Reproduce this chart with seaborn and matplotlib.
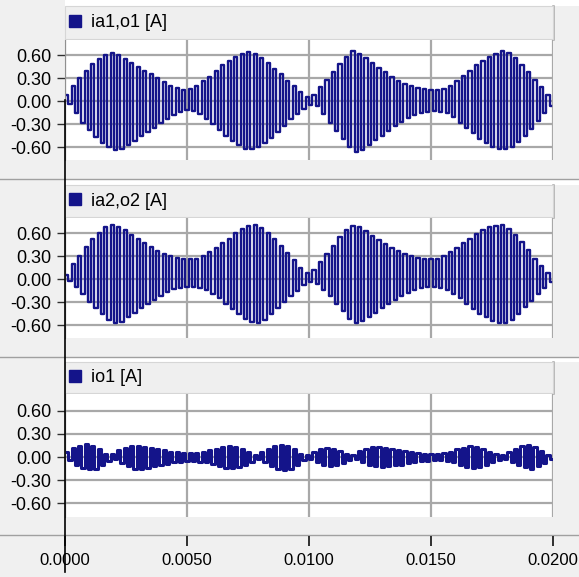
import numpy as np
import pandas as pd
import matplotlib.pyplot as plt
import seaborn as sns
from matplotlib.lines import Line2D
from matplotlib.patches import Rectangle

# =========================
# DATA (peak values per carrier cycle)
# =========================
t_end = 0.02
x_ticks = [0.0, 0.005, 0.010, 0.015, 0.020]
x_ticklabels = ["0.0000", "0.0050", "0.0100", "0.0150", "0.0200"]
y_ticks = [0.6, 0.3, 0.0, -0.3, -0.6]
y_ticklabels = ["0.60", "0.30", "0.00", "-0.30", "-0.60"]
labels = ["ia1,o1 [A]", "ia2,o2 [A]", "io1 [A]"]

ia1_pos = [0.08, 0.2, 0.3, 0.4, 0.48, 0.55, 0.6, 0.63, 0.6, 0.55,
           0.5, 0.45, 0.4, 0.35, 0.3, 0.25, 0.2, 0.17, 0.15, 0.16,
           0.2, 0.26, 0.32, 0.4, 0.47, 0.53, 0.58, 0.62, 0.64, 0.62,
           0.57, 0.5, 0.42, 0.35, 0.27, 0.2, 0.12, 0.06, 0.08, 0.18,
           0.28, 0.38, 0.48, 0.58, 0.65, 0.62, 0.56, 0.5, 0.44, 0.38,
           0.32, 0.27, 0.23, 0.2, 0.17, 0.16, 0.15, 0.15, 0.16, 0.2,
           0.26, 0.33, 0.4, 0.47, 0.53, 0.58, 0.62, 0.66, 0.63, 0.56,
           0.47, 0.38, 0.28, 0.18, 0.08]
ia1_neg = [-0.04, -0.15, -0.28, -0.38, -0.47, -0.55, -0.6, -0.64, -0.62, -0.57,
           -0.52, -0.46, -0.4, -0.35, -0.29, -0.23, -0.18, -0.14, -0.12, -0.13,
           -0.17, -0.23, -0.3, -0.38, -0.45, -0.52, -0.58, -0.62, -0.63, -0.6,
           -0.55, -0.48, -0.4, -0.32, -0.24, -0.17, -0.1, -0.05, -0.07, -0.17,
           -0.28, -0.39, -0.5, -0.6, -0.67, -0.64, -0.58, -0.51, -0.45, -0.39,
           -0.33, -0.27, -0.22, -0.18, -0.15, -0.14, -0.13, -0.14, -0.16, -0.21,
           -0.28, -0.35, -0.42, -0.49, -0.55, -0.6, -0.62, -0.63, -0.6, -0.53,
           -0.45, -0.36, -0.26, -0.16, -0.06]

ia2_pos = [0.06, 0.2, 0.3, 0.42, 0.52, 0.6, 0.68, 0.71, 0.68, 0.64,
           0.58, 0.52, 0.47, 0.42, 0.37, 0.33, 0.3, 0.28, 0.26, 0.26,
           0.27, 0.3, 0.35, 0.41, 0.47, 0.53, 0.6, 0.65, 0.69, 0.71,
           0.67, 0.6, 0.52, 0.43, 0.34, 0.25, 0.15, 0.08, 0.12, 0.22,
           0.33, 0.44, 0.55, 0.64, 0.7, 0.68, 0.63, 0.57, 0.51, 0.46,
           0.41, 0.37, 0.33, 0.3, 0.28, 0.26, 0.26, 0.27, 0.3, 0.35,
           0.41, 0.47, 0.53, 0.59, 0.64, 0.68, 0.7, 0.71, 0.66, 0.58,
           0.48, 0.38, 0.27, 0.17, 0.08]
ia2_neg = [-0.02, -0.1, -0.2, -0.3, -0.38, -0.46, -0.54, -0.58, -0.56, -0.5,
           -0.44, -0.38, -0.32, -0.27, -0.22, -0.17, -0.13, -0.11, -0.1, -0.1,
           -0.11, -0.14, -0.19, -0.25, -0.32, -0.39, -0.46, -0.52, -0.56, -0.58,
           -0.54, -0.46, -0.38, -0.3, -0.22, -0.15, -0.08, -0.04, -0.06, -0.14,
           -0.22, -0.32, -0.42, -0.52, -0.58, -0.55, -0.5, -0.44, -0.38, -0.32,
           -0.27, -0.22, -0.18, -0.14, -0.12, -0.1, -0.1, -0.11, -0.14, -0.19,
           -0.25, -0.32, -0.39, -0.45, -0.5, -0.55, -0.57, -0.58, -0.53, -0.45,
           -0.37, -0.28, -0.19, -0.11, -0.04]

io1_pos = [0.06, 0.12, 0.15, 0.17, 0.15, 0.1, 0.04, 0.04, 0.09, 0.12,
           0.14, 0.14, 0.13, 0.12, 0.1, 0.09, 0.07, 0.06, 0.05, 0.05,
           0.05, 0.06, 0.09, 0.11, 0.13, 0.14, 0.13, 0.1, 0.06, 0.03,
           0.06, 0.11, 0.14, 0.16, 0.15, 0.1, 0.04, 0.03, 0.07, 0.11,
           0.12, 0.11, 0.08, 0.04, 0.03, 0.08, 0.11, 0.13, 0.13, 0.12,
           0.11, 0.09, 0.08, 0.06, 0.05, 0.04, 0.04, 0.04, 0.05, 0.07,
           0.1, 0.12, 0.14, 0.13, 0.1, 0.07, 0.04, 0.03, 0.07, 0.11,
           0.15, 0.16, 0.13, 0.08, 0.03]
io1_neg = [-0.04, -0.1, -0.14, -0.16, -0.15, -0.11, -0.05, -0.03, -0.08, -0.12,
           -0.15, -0.15, -0.14, -0.12, -0.11, -0.09, -0.07, -0.06, -0.05, -0.05,
           -0.06, -0.07, -0.09, -0.12, -0.14, -0.14, -0.13, -0.1, -0.06, -0.03,
           -0.06, -0.12, -0.15, -0.17, -0.15, -0.1, -0.04, -0.03, -0.07, -0.1,
           -0.12, -0.11, -0.08, -0.04, -0.03, -0.07, -0.11, -0.12, -0.13, -0.12,
           -0.11, -0.1, -0.08, -0.06, -0.05, -0.05, -0.04, -0.04, -0.05, -0.07,
           -0.1, -0.13, -0.14, -0.13, -0.11, -0.07, -0.04, -0.03, -0.06, -0.1,
           -0.13, -0.15, -0.12, -0.08, -0.03]

traces = [(ia1_pos, ia1_neg), (ia2_pos, ia2_neg), (io1_pos, io1_neg)]

# =========================
# STYLE / LAYOUT (pixel geometry of the scope window)
# =========================
W, H = 579, 577
navy = "#14148a"
bg = "#f0f0f0"
grid_c = "#a8a8a8"
plt.rcParams["font.family"] = ["Liberation Sans", "DejaVu Sans"]
fs = 13

x0, x1 = 65, 553
plot_rows = [(40, 160), (218, 338), (394, 517)]     # white plot areas (top, bottom)
bar_rows = [(6, 39), (185, 217), (362, 393)]        # title bars
white_rows = [(0, 6), (180, 185), (358, 362)]
sep_rows = [179, 357, 535]
ylims = [(-0.77, 0.8), (-0.77, 0.8), (-0.78, 0.82)]
line_w = [1.7, 1.7, 2.2]


def fy(y):
    return 1 - y / H


fig = plt.figure(figsize=(W / 100, H / 100), dpi=100)
fig.patch.set_facecolor(bg)

for (a, b) in white_rows:
    fig.patches.append(Rectangle((x0 / W, fy(b)), (W - x0) / W, (b - a) / H,
                                 transform=fig.transFigure, facecolor="white",
                                 edgecolor="none", zorder=-2))
for (a, b) in bar_rows:
    fig.patches.append(Rectangle((x0 / W, fy(b)), (x1 - x0) / W, (b - a) / H,
                                 transform=fig.transFigure, facecolor="#efefef",
                                 edgecolor="#d6d6d6", lw=0.8, zorder=-1))
    fig.add_artist(Line2D([x1 / W, x1 / W], [fy(a), fy(b)], color=grid_c, lw=1.8, zorder=-1))
for y in sep_rows:
    fig.add_artist(Line2D([0, 1], [fy(y), fy(y)], color="#a0a0a0", lw=1.0, zorder=-1))

for i, ((top, bot), (pos, neg)) in enumerate(zip(plot_rows, traces)):
    ax = fig.add_axes([x0 / W, fy(bot), (x1 - x0) / W, (bot - top) / H])
    ax.set_zorder(2)
    ax.set_facecolor("white")
    n = len(pos)
    vals = np.ravel(np.column_stack([pos, neg]))
    t = (np.arange(2 * n) + 0.5) * t_end / (2 * n)
    df = pd.DataFrame({"t": t, "i": vals})
    sns.lineplot(data=df, x="t", y="i", ax=ax, color=navy, lw=line_w[i],
                 drawstyle="steps-mid", estimator=None, sort=False)
    ax.set_xlim(0, t_end)
    ax.set_ylim(*ylims[i])
    ax.set_xticks(x_ticks)
    ax.set_yticks(y_ticks)
    ax.set_yticklabels(y_ticklabels, fontsize=fs)
    ax.tick_params(axis="x", length=0, labelbottom=False)
    ax.tick_params(axis="y", length=6, width=1, color="#303030", pad=4)
    ax.grid(True, color=grid_c, lw=1.6)
    ax.set_axisbelow(True)
    ax.set_xlabel("")
    ax.set_ylabel("")
    for s in ["top", "bottom", "right"]:
        ax.spines[s].set_visible(False)
    ax.spines["left"].set_color("#909090")
    ax.axvline(t_end, color=grid_c, lw=1.8, zorder=0.5)

    bar_top, bar_bot = bar_rows[i]
    yc = 1 + (top - (bar_top + bar_bot) / 2) / (bot - top)
    handle = Line2D([], [], marker="s", linestyle="", color=navy, markersize=8)
    ax.legend([handle], [labels[i]], loc="center left", bbox_to_anchor=(0.0, yc),
              frameon=False, fontsize=fs, handlelength=0.9, handletextpad=0.45,
              borderaxespad=0, borderpad=0.1)

# time axis strip below the last panel
axt = fig.add_axes([x0 / W, fy(546), (x1 - x0) / W, 8 / H])
axt.set_facecolor("none")
axt.set_xlim(0, t_end)
axt.set_xticks(x_ticks)
axt.set_xticklabels(x_ticklabels, fontsize=12)
axt.set_yticks([])
axt.tick_params(axis="x", direction="in", length=7, width=1.3, color="#202020", pad=5)
for s in axt.spines.values():
    s.set_visible(False)

# cursor line at t = 0
fig.add_artist(Line2D([x0 / W, x0 / W], [fy(100), fy(572)], color="black", lw=1.2, zorder=5))

fig.savefig("out.png", dpi=100, facecolor=bg)
